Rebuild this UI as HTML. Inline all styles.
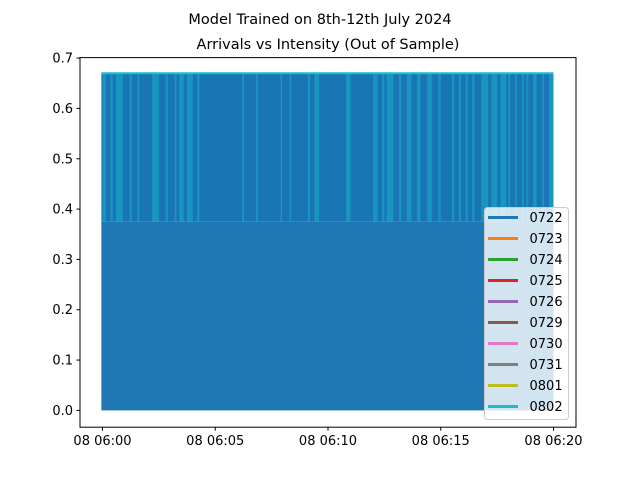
<!DOCTYPE html>
<html><head><meta charset="utf-8">
<style>
body{margin:0;background:#fff;}
svg text{font-family:"DejaVu Sans","Liberation Sans",sans-serif;fill:#000;}
</style></head>
<body>
<svg id="chart" width="640" height="480" xmlns="http://www.w3.org/2000/svg">
<rect width="640" height="480" fill="#fff"/>
<text x="320" y="24" font-size="14.5" text-anchor="middle">Model Trained on 8th-12th July 2024</text>
<text x="328" y="49" font-size="14.5" text-anchor="middle">Arrivals vs Intensity (Out of Sample)</text>
<g id="plot"></g>
<rect x="80" y="57.6" width="496" height="369.6" fill="none" stroke="#000" stroke-width="1"/>
<g id="axes"></g>
<g id="legend"></g>
</svg>
<script>
const yTicks = [0.0,0.1,0.2,0.3,0.4,0.5,0.6,0.7];
const xTickMinutes = [0,5,10,15,20];
const xTickLabels = ["08 06:00","08 06:05","08 06:10","08 06:15","08 06:20"];
const baseValue = 0.375;
const topValue = 0.67;
const startMinute = -0.05;
const endMinute = 20;
const stripes = [[0,0.15],[0.35,0.1],[0.6,0.3],[1.2,0.1],[1.55,0.08],[2.2,0.3],[2.8,0.1],[3.2,0.08],[3.4,0.2],[3.75,0.25],[4.2,0.1],[6.2,0.08],[6.8,0.08],[7.9,0.06],[8.3,0.06],[9.1,0.1],[9.4,0.2],[10.8,0.2],[12.0,0.2],[12.4,0.1],[12.6,0.3],[13.15,0.1],[13.5,0.2],[13.95,0.15],[14.4,0.2],[14.9,0.1],[15.5,0.1],[15.8,0.1],[16.1,0.1],[16.4,0.1],[16.8,0.3],[17.25,0.25],[17.65,0.25],[18.0,0.08],[18.3,0.08],[18.6,0.08],[18.8,0.08],[19.1,0.15],[19.5,0.08],[19.8,0.2]];
const legendLabels = ["0722","0723","0724","0725","0726","0729","0730","0731","0801","0802"];
const legendColors = ["#1f77b4","#ff7f0e","#2ca02c","#d62728","#9467bd","#8c564b","#e377c2","#7f7f7f","#bcbd22","#17becf"];

const NS="http://www.w3.org/2000/svg";
const xS = m => 102.5 + (m/20)*451;
const yS = v => 410.4 - v*(352.3/0.7);
function mk(tag, attrs, parent){const e=document.createElementNS(NS,tag);for(const k in attrs)e.setAttribute(k,attrs[k]);parent.appendChild(e);return e;}
const plot=document.getElementById('plot'), axes=document.getElementById('axes'), legend=document.getElementById('legend');

let r=mk('rect',{x:xS(startMinute),y:yS(baseValue),width:xS(endMinute)-xS(startMinute),height:yS(0)-yS(baseValue),fill:'#1f77b4'},plot);


r=mk('rect',{x:xS(startMinute),y:yS(topValue),width:xS(endMinute)-xS(startMinute),height:yS(baseValue)-yS(topValue),fill:'#1a75b5'},plot);


stripes.forEach(s=>{
  const e=mk('rect',{x:xS(s[0]),y:yS(topValue),width:Math.max(1,xS(s[0]+s[1])-xS(s[0])),height:yS(baseValue)-yS(topValue),fill:'#17becf','fill-opacity':0.45},plot);
  
  
});
let l=mk('line',{x1:xS(startMinute),x2:xS(endMinute),y1:yS(topValue),y2:yS(topValue),stroke:'#17becf','stroke-width':2},plot);



yTicks.forEach(v=>{
  const y=yS(v);
  const t=mk('line',{x1:76.5,x2:80,y1:y,y2:y,stroke:'#000'},axes);
  
  
  const tx=mk('text',{x:73,y:y+4.5,'font-size':13,'text-anchor':'end'},axes);
  tx.textContent=v.toFixed(1);
  
  
});
xTickMinutes.forEach((m,i)=>{
  const x=xS(m);
  const t=mk('line',{x1:x,x2:x,y1:427.2,y2:430.7,stroke:'#000'},axes);
  
  
  const tx=mk('text',{x:x,y:445,'font-size':13,'text-anchor':'middle'},axes);
  tx.textContent=xTickLabels[i];
  
  
});

const lb=mk('rect',{x:484.5,y:207.5,width:84,height:212,rx:3,fill:'#fff','fill-opacity':0.8,stroke:'#ccc'},legend);


legendLabels.forEach((lab,i)=>{
  const y=217.5+i*21;
  const ln=mk('line',{x1:488,x2:518,y1:y,y2:y,stroke:legendColors[i],'stroke-width':3},legend);
  
  
  const tx=mk('text',{x:529.5,y:y+4.7,'font-size':13},legend);
  tx.textContent=lab;
  
  
});
</script>
</body></html>
